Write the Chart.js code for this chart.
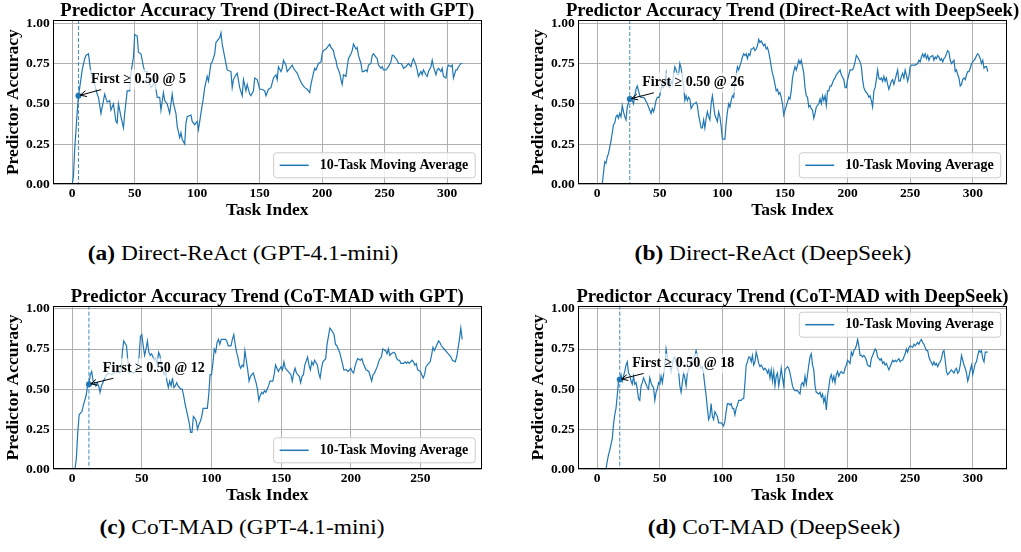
<!DOCTYPE html>
<html><head><meta charset="utf-8">
<script src="https://cdn.jsdelivr.net/npm/chart.js@4.4.1/dist/chart.umd.min.js"></script>
<style>
html,body{margin:0;padding:0;background:#fff;}
body{width:1021px;height:552px;position:relative;overflow:hidden;font-family:"Liberation Serif","Times New Roman",serif;}
.pc{position:absolute;}
.pc canvas{display:block;}
.cap{position:absolute;width:440px;font-size:20px;line-height:20px;text-align:center;white-space:nowrap;color:#000;transform:scaleX(1.17);transform-origin:50% 50%;}
</style></head><body>
<div class="pc" style="left:0;top:0;"><canvas id="c0" width="510" height="225"></canvas></div>
<div class="pc" style="left:525px;top:0;"><canvas id="c1" width="496" height="225"></canvas></div>
<div class="pc" style="left:0;top:285px;"><canvas id="c2" width="510" height="225"></canvas></div>
<div class="pc" style="left:525px;top:285px;"><canvas id="c3" width="496" height="225"></canvas></div>
<div class="cap" style="left:22.5px;top:242.5px;"><b>(a)</b> Direct-ReAct (GPT-4.1-mini)</div>
<div class="cap" style="left:552.5px;top:242.5px;"><b>(b)</b> Direct-ReAct (DeepSeek)</div>
<div class="cap" style="left:21.7px;top:516.7px;"><b>(c)</b> CoT-MAD (GPT-4.1-mini)</div>
<div class="cap" style="left:553.5px;top:516.7px;"><b>(d)</b> CoT-MAD (DeepSeek)</div>
<script>
// ---------------- data ----------------
const TITLES = [
  'Predictor Accuracy Trend (Direct-ReAct with GPT)',
  'Predictor Accuracy Trend (Direct-ReAct with DeepSeek)',
  'Predictor Accuracy Trend (CoT-MAD with GPT)',
  'Predictor Accuracy Trend (CoT-MAD with DeepSeek)'
];
const LEGEND_LABEL = '10-Task Moving Average';
const X_LABEL = 'Task Index';
const Y_LABEL = 'Predictor Accuracy';
const Y_TICKS = [0, 0.25, 0.5, 0.75, 1.0];
const Y_TICK_LABELS = ['0.00', '0.25', '0.50', '0.75', '1.00'];
const X_TICKS_312 = [0, 50, 100, 150, 200, 250, 300];
const X_TICKS_280 = [0, 50, 100, 150, 200, 250];
const FIRST_X = [5, 26, 12, 18];
const FIRST_Y = [0.55, 0.53, 0.53, 0.56];
const LAST_INDEX = [312, 312, 280, 312];

// (a) Direct-ReAct with GPT
const xA = [
  0,1,2,3,4,5,6,8,10,11,
  13,15,18,20,21,23,25,26,28,30,
  31,33,35,36,37,39,41,42,44,46,
  47,49,50,52,53,55,57,58,60,61,
  63,65,66,68,70,71,73,74,76,78,
  80,81,83,84,86,87,88,90,91,92,
  95,96,98,100,101,103,105,106,108,109,
  111,112,114,115,116,118,119,120,122,124,
  127,128,129,131,132,134,136,137,139,140,
  142,143,145,146,148,150,152,154,155,157,
  159,161,163,164,165,167,168,169,171,172,
  174,176,177,179,180,182,184,186,188,190,
  191,193,194,195,197,199,200,201,203,204,
  206,207,209,210,211,212,214,215,216,217,
  219,220,221,223,224,225,227,228,229,231,
  232,233,235,236,237,239,240,241,243,244,
  245,247,248,249,251,252,253,255,256,257,
  259,260,261,263,264,265,267,268,269,271,
  272,273,275,276,277,279,280,281,283,284,
  285,287,288,289,291,292,293,295,296,297,
  299,300,301,303,304,305,307,308,309,311,
  312];
const yA = [
  0.00,0.05,0.22,0.33,0.45,0.55,0.60,0.71,0.78,0.80,
  0.81,0.69,0.62,0.56,0.54,0.44,0.52,0.56,0.51,0.52,
  0.46,0.50,0.39,0.38,0.50,0.42,0.35,0.44,0.58,0.58,
  0.69,0.79,0.93,0.92,0.82,0.81,0.73,0.70,0.70,0.65,
  0.60,0.62,0.64,0.54,0.54,0.46,0.57,0.52,0.50,0.44,
  0.56,0.50,0.44,0.36,0.29,0.32,0.28,0.25,0.38,0.42,
  0.43,0.39,0.37,0.39,0.34,0.44,0.54,0.60,0.67,0.64,
  0.75,0.76,0.81,0.88,0.89,0.91,0.94,0.87,0.79,0.71,
  0.70,0.60,0.65,0.68,0.69,0.60,0.55,0.65,0.58,0.62,
  0.56,0.55,0.58,0.66,0.65,0.59,0.59,0.58,0.55,0.59,
  0.60,0.66,0.68,0.65,0.73,0.70,0.72,0.77,0.74,0.70,
  0.72,0.74,0.72,0.70,0.69,0.65,0.62,0.60,0.59,0.57,
  0.62,0.69,0.72,0.71,0.75,0.76,0.81,0.83,0.84,0.85,
  0.87,0.85,0.83,0.79,0.77,0.73,0.69,0.65,0.62,0.68,
  0.67,0.73,0.78,0.81,0.83,0.87,0.84,0.85,0.80,0.75,
  0.70,0.70,0.71,0.70,0.74,0.75,0.80,0.81,0.79,0.78,
  0.74,0.72,0.73,0.71,0.71,0.72,0.73,0.76,0.80,0.80,
  0.78,0.77,0.75,0.75,0.74,0.72,0.73,0.74,0.75,0.73,
  0.76,0.78,0.74,0.71,0.67,0.70,0.68,0.71,0.68,0.67,
  0.70,0.73,0.77,0.73,0.68,0.71,0.72,0.70,0.72,0.67,
  0.66,0.72,0.74,0.73,0.74,0.66,0.71,0.71,0.73,0.75,
  0.75];

// (b) Direct-ReAct with DeepSeek
const xB = [
  4,5,6,7,8,9,11,12,13,14,
  15,16,17,18,19,20,21,22,23,24,
  26,27,28,29,30,31,32,33,34,35,
  37,38,40,42,43,44,45,46,47,48,
  49,50,51,52,53,54,55,56,58,59,
  60,61,62,63,64,65,66,67,68,69,
  70,71,72,73,74,75,77,78,79,80,
  81,82,83,84,85,86,87,88,89,90,
  91,92,93,94,96,97,98,99,100,101,
  102,103,104,105,106,107,108,109,110,111,
  112,113,115,116,117,118,119,120,121,122,
  123,124,125,126,127,128,129,130,131,133,
  134,135,136,137,138,139,140,141,142,143,
  144,145,146,147,148,149,150,152,153,154,
  155,156,157,158,159,161,162,163,164,165,
  166,167,168,169,170,171,172,173,174,175,
  177,178,179,180,181,182,183,184,185,186,
  187,189,190,191,193,194,195,197,198,199,
  200,201,202,203,204,205,206,207,208,210,
  211,212,213,214,215,216,217,218,219,220,
  221,222,223,224,225,226,227,228,229,230,
  231,232,233,235,236,237,238,239,240,241,
  242,243,244,245,246,247,248,249,250,251,
  253,254,256,257,258,259,260,261,262,263,
  264,265,266,268,269,270,271,272,273,274,
  275,276,277,278,279,280,281,282,283,285,
  286,287,288,289,290,291,292,293,294,295,
  296,297,298,299,300,302,303,304,305,306,
  307,308,309,310,311,312];
const yB = [
  0.00,0.07,0.14,0.13,0.17,0.19,0.27,0.32,0.37,0.38,
  0.42,0.43,0.41,0.44,0.42,0.49,0.45,0.42,0.40,0.48,
  0.53,0.54,0.52,0.50,0.55,0.59,0.61,0.58,0.55,0.54,
  0.54,0.53,0.50,0.46,0.44,0.47,0.45,0.48,0.52,0.54,
  0.54,0.55,0.59,0.61,0.60,0.64,0.69,0.62,0.60,0.64,
  0.62,0.68,0.73,0.71,0.68,0.68,0.75,0.72,0.67,0.61,
  0.52,0.55,0.52,0.54,0.53,0.47,0.50,0.50,0.51,0.49,
  0.43,0.39,0.35,0.35,0.40,0.35,0.41,0.45,0.42,0.40,
  0.50,0.55,0.49,0.43,0.39,0.45,0.42,0.36,0.28,0.28,
  0.28,0.38,0.45,0.50,0.48,0.52,0.55,0.54,0.62,0.68,
  0.73,0.71,0.76,0.79,0.81,0.80,0.81,0.78,0.81,0.80,
  0.84,0.84,0.85,0.83,0.84,0.86,0.90,0.88,0.89,0.86,
  0.87,0.84,0.85,0.82,0.78,0.73,0.69,0.66,0.62,0.58,
  0.59,0.56,0.57,0.54,0.50,0.43,0.46,0.51,0.54,0.53,
  0.58,0.66,0.70,0.73,0.71,0.77,0.75,0.77,0.73,0.69,
  0.60,0.55,0.54,0.48,0.49,0.47,0.46,0.41,0.44,0.48,
  0.50,0.53,0.50,0.55,0.52,0.55,0.49,0.58,0.58,0.61,
  0.61,0.65,0.66,0.68,0.70,0.71,0.68,0.65,0.60,0.60,
  0.65,0.68,0.71,0.71,0.71,0.73,0.76,0.80,0.79,0.76,
  0.73,0.65,0.60,0.58,0.57,0.56,0.54,0.55,0.52,0.48,
  0.58,0.60,0.65,0.71,0.66,0.65,0.66,0.64,0.67,0.64,
  0.66,0.62,0.59,0.64,0.65,0.62,0.65,0.68,0.71,0.64,
  0.64,0.67,0.69,0.66,0.71,0.68,0.64,0.67,0.73,0.74,
  0.74,0.74,0.75,0.77,0.76,0.79,0.81,0.79,0.81,0.78,
  0.80,0.77,0.79,0.80,0.77,0.79,0.78,0.80,0.79,0.77,
  0.78,0.76,0.78,0.79,0.81,0.83,0.82,0.77,0.75,0.77,
  0.70,0.71,0.68,0.66,0.61,0.62,0.65,0.66,0.65,0.68,
  0.70,0.70,0.72,0.75,0.76,0.78,0.80,0.81,0.80,0.78,
  0.75,0.77,0.72,0.73,0.73,0.70];

// (c) CoT-MAD with GPT
const xC = [
  2,3,4,5,6,7,8,9,10,11,
  12,13,14,15,16,17,18,19,20,21,
  22,24,26,28,30,32,34,35,36,37,
  39,40,41,42,44,46,47,48,49,50,
  51,52,53,54,55,56,57,58,59,60,
  61,62,63,64,65,66,67,68,69,70,
  71,72,73,74,75,76,77,78,79,80,
  81,82,83,84,85,86,87,88,89,90,
  91,92,93,94,95,96,97,98,99,100,
  101,102,103,104,105,106,107,108,110,111,
  112,114,115,116,117,118,119,120,121,122,
  123,124,125,126,127,128,129,130,131,132,
  133,134,135,136,137,138,139,140,141,142,
  144,145,146,147,148,150,151,152,153,154,
  155,157,158,159,160,161,163,164,165,166,
  167,169,170,171,172,173,174,176,177,178,
  179,180,182,183,184,185,186,188,189,190,
  191,192,194,195,196,197,198,200,201,202,
  203,204,205,207,208,209,210,211,213,214,
  215,216,217,219,220,221,222,223,225,226,
  227,228,229,231,232,233,234,235,236,238,
  239,240,241,242,244,245,246,247,248,250,
  251,252,253,254,256,257,258,259,260,261,
  263,264,265,266,267,269,270,271,272,273,
  275,276,277,278,279,280];
const yC = [
  0.00,0.07,0.23,0.34,0.35,0.36,0.40,0.43,0.46,0.52,
  0.53,0.59,0.61,0.55,0.54,0.52,0.54,0.52,0.48,0.52,
  0.54,0.58,0.60,0.59,0.60,0.61,0.60,0.61,0.73,0.80,
  0.77,0.67,0.60,0.61,0.60,0.61,0.65,0.70,0.83,0.84,
  0.77,0.71,0.75,0.80,0.73,0.71,0.72,0.70,0.68,0.69,
  0.65,0.73,0.71,0.64,0.62,0.59,0.61,0.55,0.51,0.55,
  0.52,0.57,0.51,0.52,0.54,0.52,0.51,0.50,0.50,0.46,
  0.41,0.37,0.33,0.29,0.23,0.23,0.33,0.32,0.30,0.25,
  0.28,0.30,0.33,0.38,0.38,0.38,0.38,0.46,0.59,0.59,
  0.66,0.75,0.73,0.79,0.81,0.78,0.81,0.81,0.81,0.80,
  0.77,0.77,0.81,0.84,0.78,0.73,0.70,0.65,0.63,0.65,
  0.64,0.74,0.68,0.62,0.55,0.58,0.59,0.60,0.57,0.54,
  0.50,0.43,0.46,0.48,0.47,0.49,0.48,0.50,0.52,0.55,
  0.55,0.59,0.65,0.63,0.61,0.64,0.62,0.67,0.63,0.62,
  0.61,0.59,0.55,0.60,0.63,0.60,0.58,0.54,0.58,0.59,
  0.65,0.70,0.65,0.62,0.67,0.65,0.68,0.65,0.60,0.57,
  0.63,0.67,0.69,0.78,0.83,0.88,0.87,0.84,0.78,0.77,
  0.75,0.73,0.66,0.62,0.62,0.62,0.61,0.63,0.61,0.60,
  0.64,0.67,0.69,0.68,0.69,0.66,0.64,0.62,0.61,0.58,
  0.55,0.59,0.60,0.64,0.67,0.69,0.70,0.75,0.74,0.72,
  0.75,0.71,0.72,0.73,0.72,0.69,0.68,0.68,0.66,0.66,
  0.67,0.66,0.67,0.66,0.68,0.67,0.65,0.66,0.62,0.61,
  0.59,0.57,0.59,0.64,0.66,0.67,0.71,0.76,0.74,0.76,
  0.80,0.79,0.77,0.76,0.75,0.73,0.72,0.71,0.70,0.68,
  0.67,0.70,0.75,0.81,0.88,0.81];

// (d) CoT-MAD with DeepSeek
const xD = [
  0,7,8,9,10,12,13,14,15,16,
  17,18,19,20,21,22,23,24,25,26,
  27,28,29,30,31,32,33,34,35,36,
  37,39,40,41,42,43,44,45,46,47,
  48,49,50,51,52,53,54,55,56,58,
  59,60,61,62,63,64,65,66,67,68,
  69,70,71,72,73,74,75,77,78,79,
  80,81,82,83,84,85,86,87,88,89,
  90,91,92,93,94,96,97,98,99,100,
  101,102,103,104,105,106,107,108,109,110,
  111,112,113,115,116,117,118,119,120,121,
  122,123,124,125,126,127,128,129,130,131,
  133,134,135,136,137,138,139,140,141,142,
  143,144,145,146,147,148,149,150,152,153,
  154,155,156,157,158,160,161,162,163,164,
  165,166,167,168,169,170,171,172,173,174,
  175,177,178,179,180,181,182,183,184,185,
  186,187,188,189,190,191,192,193,194,195,
  196,197,198,199,200,202,203,204,205,206,
  207,208,209,210,211,212,213,214,215,216,
  218,219,220,221,222,223,224,225,226,227,
  228,229,230,231,232,233,235,236,237,238,
  239,240,241,242,243,244,245,246,247,248,
  249,250,252,253,254,255,256,257,258,259,
  260,261,262,263,264,265,266,268,269,270,
  271,272,273,274,275,276,277,278,279,280,
  281,282,283,285,286,287,288,289,290,291,
  292,293,294,295,296,297,298,299,300,302,
  303,304,305,306,307,308,309,310,311,312];
const yD = [
  0.00,0.00,0.05,0.09,0.12,0.19,0.28,0.34,0.38,0.46,
  0.55,0.56,0.59,0.55,0.58,0.61,0.65,0.67,0.60,0.59,
  0.55,0.53,0.58,0.53,0.54,0.50,0.44,0.43,0.52,0.54,
  0.57,0.53,0.51,0.50,0.57,0.54,0.52,0.51,0.43,0.48,
  0.50,0.54,0.53,0.58,0.54,0.59,0.65,0.75,0.70,0.65,
  0.61,0.65,0.69,0.70,0.67,0.63,0.61,0.52,0.48,0.54,
  0.60,0.57,0.52,0.60,0.62,0.65,0.67,0.70,0.71,0.74,
  0.71,0.68,0.65,0.63,0.64,0.59,0.52,0.46,0.38,0.31,
  0.33,0.41,0.33,0.31,0.36,0.33,0.29,0.29,0.29,0.28,
  0.27,0.30,0.36,0.41,0.41,0.40,0.41,0.38,0.38,0.34,
  0.38,0.40,0.43,0.43,0.44,0.44,0.54,0.65,0.67,0.70,
  0.70,0.67,0.71,0.65,0.67,0.73,0.70,0.66,0.64,0.65,
  0.62,0.63,0.62,0.60,0.62,0.57,0.62,0.55,0.61,0.52,
  0.58,0.60,0.52,0.57,0.63,0.57,0.52,0.62,0.64,0.63,
  0.60,0.56,0.52,0.50,0.49,0.49,0.48,0.47,0.53,0.54,
  0.52,0.58,0.53,0.59,0.65,0.70,0.72,0.65,0.62,0.52,
  0.48,0.47,0.48,0.45,0.47,0.42,0.45,0.37,0.46,0.51,
  0.57,0.59,0.55,0.58,0.54,0.59,0.61,0.58,0.60,0.61,
  0.60,0.60,0.63,0.65,0.68,0.66,0.73,0.71,0.74,0.75,
  0.77,0.81,0.77,0.71,0.71,0.70,0.71,0.70,0.68,0.65,
  0.64,0.69,0.71,0.73,0.75,0.74,0.70,0.69,0.68,0.69,
  0.66,0.67,0.65,0.66,0.64,0.62,0.66,0.68,0.67,0.68,
  0.67,0.68,0.69,0.67,0.68,0.68,0.70,0.72,0.75,0.73,
  0.76,0.77,0.76,0.78,0.77,0.78,0.79,0.78,0.80,0.81,
  0.79,0.78,0.76,0.74,0.74,0.70,0.68,0.65,0.67,0.65,
  0.66,0.64,0.66,0.67,0.69,0.73,0.74,0.68,0.61,0.59,
  0.60,0.61,0.62,0.60,0.62,0.63,0.60,0.61,0.65,0.71,
  0.68,0.65,0.63,0.60,0.55,0.58,0.62,0.65,0.59,0.66,
  0.67,0.71,0.74,0.73,0.74,0.69,0.67,0.73,0.73,0.73];

// ---------------- styling ----------------
const BLUE = '#1f77b4';
const GRID = '#b0b0b0';
const FAM = '"Liberation Serif", "Times New Roman", Times, serif';

function roundRect(ctx, x, y, w, h, r) {
  ctx.beginPath();
  ctx.moveTo(x + r, y);
  ctx.lineTo(x + w - r, y); ctx.quadraticCurveTo(x + w, y, x + w, y + r);
  ctx.lineTo(x + w, y + h - r); ctx.quadraticCurveTo(x + w, y + h, x + w - r, y + h);
  ctx.lineTo(x + r, y + h); ctx.quadraticCurveTo(x, y + h, x, y + h - r);
  ctx.lineTo(x, y + r); ctx.quadraticCurveTo(x, y, x + r, y);
  ctx.closePath();
}

const deco = {
  id: 'deco',
  beforeDatasetsDraw(chart, args, o) {
    const {ctx, chartArea: a, scales: {x}} = chart;
    const px = x.getPixelForValue(o.firstX);
    ctx.save();
    ctx.strokeStyle = 'rgba(31,119,180,0.85)';
    ctx.lineWidth = 1;
    ctx.setLineDash([4, 2]);
    ctx.beginPath(); ctx.moveTo(px, a.top); ctx.lineTo(px, a.bottom); ctx.stroke();
    ctx.restore();
  },
  afterDatasetsDraw(chart, args, o) {
    const {ctx, chartArea: a, scales: {x, y}} = chart;
    ctx.save();
    // frame
    ctx.strokeStyle = '#000'; ctx.lineWidth = 1;
    const l = Math.round(a.left) + 0.5, t = Math.round(a.top) + 0.5;
    const r = Math.round(a.right) - 0.5, b = Math.round(a.bottom) - 0.5;
    ctx.strokeRect(l, t, r - l, b - t);

    // annotation
    const px = x.getPixelForValue(o.firstX), py = y.getPixelForValue(o.firstY);
    const tx = x.getPixelForValue(o.firstX + 10), ty = y.getPixelForValue(o.firstY + 0.1);
    const txt = 'First \u2265 0.50 @ ' + o.firstX;
    ctx.font = 'bold 14px ' + FAM;
    const tw = ctx.measureText(txt).width;
    const pad = 3, hh = 7 + pad;
    const bx0 = tx - pad, bx1 = tx + tw + pad, by0 = ty - hh, by1 = ty + hh;
    ctx.fillStyle = 'rgba(255,255,255,0.7)';
    roundRect(ctx, bx0, by0, bx1 - bx0, by1 - by0, 4); ctx.fill();
    // arrow
    const cx = (bx0 + bx1) / 2, cy = ty;
    const dx = px - cx, dy = py - cy;
    let tt = 1;
    if (dx !== 0) tt = Math.min(tt, Math.abs(((dx < 0 ? bx0 : bx1) - cx) / dx));
    if (dy !== 0) tt = Math.min(tt, Math.abs(((dy < 0 ? by0 : by1) - cy) / dy));
    const sx = cx + dx * tt, sy = cy + dy * tt;
    const L = Math.hypot(px - sx, py - sy), ux = (px - sx) / L, uy = (py - sy) / L;
    const ex = px - ux * 2, ey = py - uy * 2;
    ctx.strokeStyle = '#000'; ctx.lineWidth = 1;
    ctx.beginPath(); ctx.moveTo(sx, sy); ctx.lineTo(ex, ey); ctx.stroke();
    const hl = 6, hw = 3;
    ctx.beginPath();
    ctx.moveTo(ex - ux * hl - uy * hw, ey - uy * hl + ux * hw);
    ctx.lineTo(ex, ey);
    ctx.lineTo(ex - ux * hl + uy * hw, ey - uy * hl - ux * hw);
    ctx.stroke();
    ctx.fillStyle = '#000'; ctx.textAlign = 'left'; ctx.textBaseline = 'middle';
    ctx.fillText(txt, tx, ty);

    // legend
    ctx.font = 'bold 14px ' + FAM;
    const lw = ctx.measureText(LEGEND_LABEL).width;
    const bw = 46 + lw + 7, bh = 25, ins = 6.5;
    const lx = a.right - ins - bw;
    const ly = o.legendTop ? a.top + ins : a.bottom - ins - bh;
    ctx.fillStyle = 'rgba(255,255,255,0.8)';
    ctx.strokeStyle = '#cccccc';
    roundRect(ctx, lx, ly, bw, bh, 3); ctx.fill(); ctx.stroke();
    ctx.strokeStyle = BLUE; ctx.lineWidth = 1.5;
    ctx.beginPath(); ctx.moveTo(lx + 6, ly + bh / 2); ctx.lineTo(lx + 35, ly + bh / 2); ctx.stroke();
    ctx.fillStyle = '#000'; ctx.textAlign = 'left'; ctx.textBaseline = 'middle';
    ctx.fillText(LEGEND_LABEL, lx + 46, ly + bh / 2);
    ctx.restore();
  },
  afterDraw(chart, args, o) {
    const {ctx, chartArea: a} = chart;
    ctx.save();
    ctx.font = 'bold 18px ' + FAM;
    ctx.fillStyle = '#000'; ctx.textAlign = 'center'; ctx.textBaseline = 'alphabetic';
    ctx.translate((a.left + a.right) / 2, a.top - 4);
    ctx.scale(1.037, 1);
    ctx.fillText(o.title, 0, 0);
    ctx.restore();
  }
};

function makeChart(id, xs, ys, k, padTop, padRight, legendTop, xTicks) {
  const last = LAST_INDEX[k];
  const pts = xs.map((v, i) => ({x: v, y: ys[i]}));
  new Chart(document.getElementById(id), {
    type: 'line',
    data: {
      datasets: [
        {label: LEGEND_LABEL, data: pts, borderColor: BLUE, borderWidth: 1.2,
         pointRadius: 0, tension: 0, fill: false},
        {label: 'first', data: [{x: FIRST_X[k], y: FIRST_Y[k]}], showLine: false,
         pointRadius: 3, pointBackgroundColor: BLUE, pointBorderWidth: 0, borderColor: BLUE}
      ]
    },
    options: {
      responsive: false, animation: false,
      layout: {padding: {top: padTop, right: padRight, left: 0, bottom: 0}},
      plugins: {
        legend: {display: false}, tooltip: {enabled: false},
        deco: {title: TITLES[k], firstX: FIRST_X[k], firstY: FIRST_Y[k], legendTop: legendTop}
      },
      scales: {
        x: {
          type: 'linear', min: -0.05 * last, max: 1.05 * last,
          afterBuildTicks: s => { s.ticks = xTicks.map(v => ({value: v})); },
          afterFit: s => { s.height = 40.7; },
          grid: {color: GRID, lineWidth: 1, drawTicks: false},
          border: {display: false},
          ticks: {color: '#000', padding: 1, font: {family: FAM, size: 13.5, weight: 'bold'}},
          title: {display: true, text: X_LABEL, color: '#000',
                  font: {family: FAM, size: 17.5, weight: 'bold', lineHeight: 1},
                  padding: {top: 0, bottom: 6.2}}
        },
        y: {
          type: 'linear', min: 0, max: 1.02,
          afterBuildTicks: s => { s.ticks = Y_TICKS.map(v => ({value: v})); },
          afterFit: s => { s.width = 52.7; },
          grid: {color: GRID, lineWidth: 1, drawTicks: false},
          border: {display: false},
          ticks: {color: '#000', padding: 3, font: {family: FAM, size: 13.5, weight: 'bold'},
                  callback: (v, i) => Y_TICK_LABELS[i]},
          title: {display: true, text: Y_LABEL, color: '#000',
                  font: {family: FAM, size: 17.5, weight: 'bold', lineHeight: 1},
                  padding: {top: 5.2, bottom: 0}}
        }
      }
    },
    plugins: [deco]
  });
}

makeChart('c0', xA, yA, 0, 20, 28.3, false, X_TICKS_312);
makeChart('c1', xB, yB, 1, 20, 13.7, false, X_TICKS_312);
makeChart('c2', xC, yC, 2, 20.7, 28.3, false, X_TICKS_280);
makeChart('c3', xD, yD, 3, 20.7, 13.7, true, X_TICKS_312);
</script>
</body></html>
